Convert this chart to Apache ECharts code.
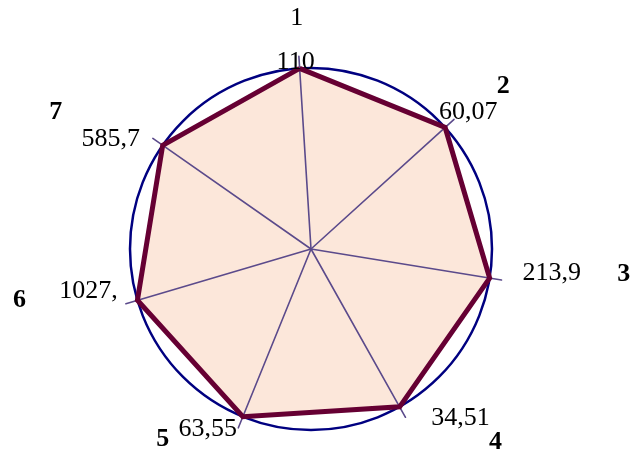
<!DOCTYPE html>
<html>
<head>
<meta charset="utf-8">
<script src="https://cdn.jsdelivr.net/npm/echarts@6/dist/echarts.min.js"></script>
<style>html,body{margin:0;padding:0;background:#fff;}#c{width:630px;height:454px;}</style>
</head>
<body>
<div id="c"></div>
<script>
// Data (natural order 1..7, clockwise from top)
var categories = ['1', '2', '3', '4', '5', '6', '7'];
var values = [110, 60.07, 213.9, 34.51, 63.55, 1027, 585.7];
var valueLabels = ['110', '60,07', '213,9', '34,51', '63,55', '1027,', '585,7'];

// ECharts radar lays indicators counter-clockwise: reverse after the first
var order = [0, 6, 5, 4, 3, 2, 1];
var rCats = order.map(function (i) { return categories[i]; });
var rVals = order.map(function (i) { return values[i]; });

// styles (label offsets in px, in natural order)
var valueOffsets = [[-4, -6], [23, -15], [62, -5], [61, 11], [-35, 12], [-49, -9], [-52, -6]];
var nameOffsets = [[-3, -50], [58, -41], [134, -4], [96, 35], [-80, 23], [-118, 0], [-107, -33]];
var nameBold = [false, true, true, true, true, true, true];

var indicators = rCats.map(function (c, k) { return { name: c, min: 0, max: rVals[k] }; });
var FONT = 'Liberation Serif';
var CENTER = [311, 249];
var START = 93.6;

function labelItem(natIdx, text, offset, bold) {
  var target = values[natIdx];
  return {
    value: rVals.slice(),
    lineStyle: { width: 0, opacity: 0 },
    label: {
      show: true,
      position: 'inside',
      offset: offset,
      color: '#000',
      fontFamily: FONT,
      fontSize: 26,
      fontWeight: bold ? 'bold' : 'normal',
      formatter: function (p) { return p.value === target ? text : ''; }
    }
  };
}

var lineData = [{
  value: rVals.slice(),
  lineStyle: { color: '#660033', width: 5, join: 'miter' }
}];
categories.forEach(function (c, i) {
  lineData.push(labelItem(i, valueLabels[i], valueOffsets[i], false));
  lineData.push(labelItem(i, c, nameOffsets[i], nameBold[i]));
});

var chart = echarts.init(document.getElementById('c'), null, { renderer: 'canvas' });
chart.setOption({
  animation: false,
  backgroundColor: '#ffffff',
  radar: [
    {
      // outer circle
      center: CENTER, radius: 181, startAngle: START, shape: 'circle', splitNumber: 1,
      indicator: indicators, z: 2,
      axisName: { show: false },
      axisLine: { show: false },
      axisTick: { show: false },
      axisLabel: { show: false },
      splitArea: { show: false },
      splitLine: { show: true, lineStyle: { color: ['transparent', '#000080'], width: 2.5 } }
    },
    {
      // spokes
      center: CENTER, radius: 193, startAngle: START, shape: 'circle', splitNumber: 1,
      indicator: indicators, z: 2,
      axisName: { show: false },
      axisLine: { show: true, lineStyle: { color: '#5b4a8b', width: 1.6 } },
      axisTick: { show: false },
      axisLabel: { show: false },
      splitArea: { show: false },
      splitLine: { show: false }
    }
  ],
  series: [
    {
      type: 'radar', radarIndex: 0, z: 1, silent: true,
      symbol: 'circle', symbolSize: 0,
      data: [{
        value: rVals.slice(),
        lineStyle: { width: 0, opacity: 0 },
        areaStyle: { color: '#fce7da', opacity: 1 }
      }]
    },
    {
      type: 'radar', radarIndex: 0, z: 3, silent: true,
      symbol: 'circle', symbolSize: 0,
      emphasis: { disabled: true },
      data: lineData
    }
  ]
});
</script>
</body>
</html>
